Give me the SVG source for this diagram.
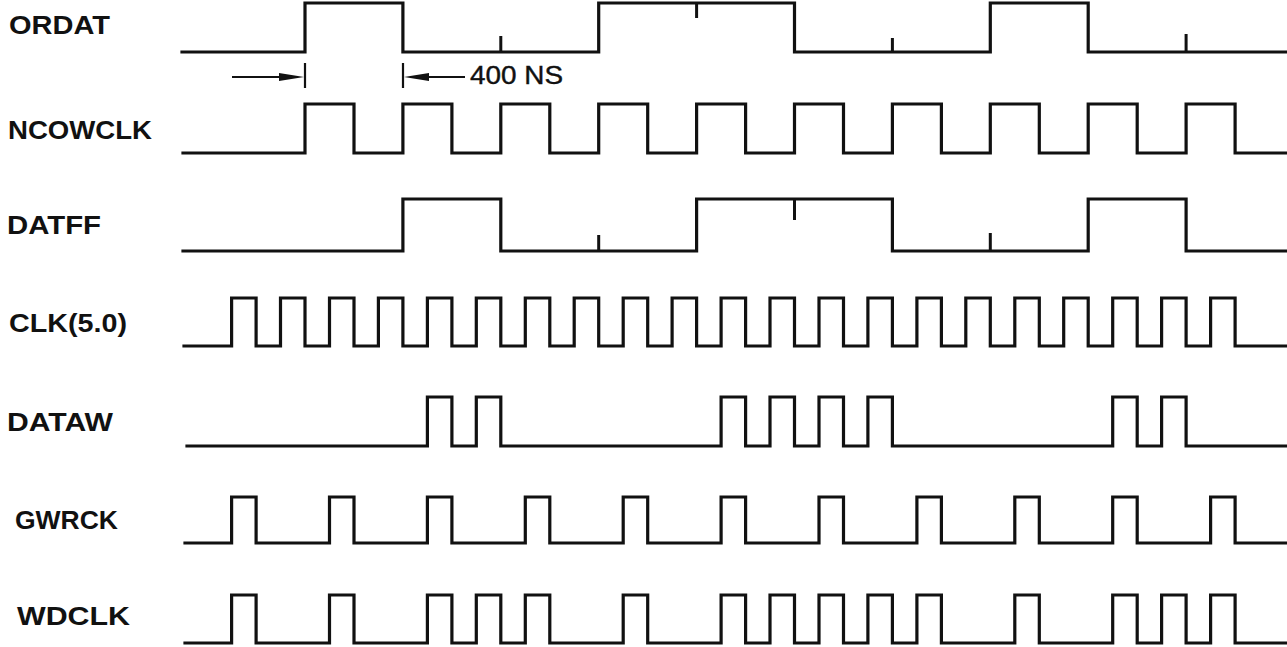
<svg xmlns="http://www.w3.org/2000/svg" width="1287" height="647" viewBox="0 0 1287 647">
<style>
.bg{fill:#ffffff}
.lbl{font-family:"Liberation Sans",Arial,Helvetica,sans-serif;font-weight:bold;font-size:25px;fill:#111}
.dim{font-family:"Liberation Sans",Arial,Helvetica,sans-serif;font-size:25px;fill:#111;stroke:#111;stroke-width:0.4}
.wave{fill:none;stroke:#111;stroke-width:3.2;stroke-linejoin:miter;stroke-linecap:square}
.tick{fill:none;stroke:#111;stroke-width:3}
.aline{fill:none;stroke:#111;stroke-width:2.2}
.ahead{fill:#111}
</style>
<rect class="bg" x="0" y="0" width="1287" height="647"/>

<g id="ORDAT">
<text class="lbl" x="9" y="34" textLength="101" lengthAdjust="spacingAndGlyphs">ORDAT</text>
<path class="wave" d="M182 52H305V3H402.9V52H598.7V3H794.5V52H990.3V3H1088.2V52H1287"/>
<path class="tick" d="M500.8 52V36M696.6 3V18M892.4 52V38M1186.1 52V34"/>
</g>

<g id="NCOWCLK">
<text class="lbl" x="8" y="139" textLength="144" lengthAdjust="spacingAndGlyphs">NCOWCLK</text>
<path class="wave" d="M183 153H305V104H354V153H402.9V104H451.9V153H500.8V104H549.8V153H598.7V104H647.7V153H696.6V104H745.6V153H794.5V104H843.5V153H892.4V104H941.4V153H990.3V104H1039.3V153H1088.2V104H1137.2V153H1186.1V104H1235.1V153H1287"/>
</g>

<g id="DATFF">
<text class="lbl" x="7" y="234" textLength="94" lengthAdjust="spacingAndGlyphs">DATFF</text>
<path class="wave" d="M183 251H402.9V199H500.8V251H696.6V199H892.4V251H1088.2V199H1186.1V251H1287"/>
<path class="tick" d="M598.7 251V235M794.5 199V220M990.3 251V233"/>
</g>

<g id="CLK">
<text class="lbl" x="9" y="332" textLength="118" lengthAdjust="spacingAndGlyphs">CLK(5.0)</text>
<path class="wave" d="M184 346H231.6V298H256.1V346H280.5V298H305V346H329.5V298H354V346H378.4V298H402.9V346H427.4V298H451.9V346H476.3V298H500.8V346H525.3V298H549.8V346H574.2V298H598.7V346H623.2V298H647.7V346H672.1V298H696.6V346H721.1V298H745.6V346H770V298H794.5V346H819V298H843.5V346H867.9V298H892.4V346H916.9V298H941.4V346H965.8V298H990.3V346H1014.8V298H1039.3V346H1063.7V298H1088.2V346H1112.7V298H1137.2V346H1161.6V298H1186.1V346H1210.6V298H1235.1V346H1287"/>
</g>

<g id="DATAW">
<text class="lbl" x="7" y="431" textLength="106" lengthAdjust="spacingAndGlyphs">DATAW</text>
<path class="wave" d="M187 446H427.4V397H451.9V446H476.3V397H500.8V446H721.1V397H745.6V446H770V397H794.5V446H819V397H843.5V446H867.9V397H892.4V446H1112.7V397H1137.2V446H1161.6V397H1186.1V446H1287"/>
</g>

<g id="GWRCK">
<text class="lbl" x="15" y="529" textLength="103" lengthAdjust="spacingAndGlyphs">GWRCK</text>
<path class="wave" d="M185 543H231.6V497H256.1V543H329.5V497H354V543H427.4V497H451.9V543H525.3V497H549.8V543H623.2V497H647.7V543H721.1V497H745.6V543H819V497H843.5V543H916.9V497H941.4V543H1014.8V497H1039.3V543H1112.7V497H1137.2V543H1210.6V497H1235.1V543H1287"/>
</g>

<g id="WDCLK">
<text class="lbl" x="17" y="625" textLength="113" lengthAdjust="spacingAndGlyphs">WDCLK</text>
<path class="wave" d="M185 643H231.6V595H256.1V643H329.5V595H354V643H427.4V595H451.9V643H476.3V595H500.8V643H525.3V595H549.8V643H623.2V595H647.7V643H721.1V595H745.6V643H770V595H794.5V643H819V595H843.5V643H867.9V595H892.4V643H916.9V595H941.4V643H1014.8V595H1039.3V643H1112.7V595H1137.2V643H1161.6V595H1186.1V643H1210.6V595H1235.1V643H1287"/>
</g>

<g id="connectors">
<path class="aline" d="M232 77H282"/>
<polygon class="ahead" points="279,73 304,77 279,81"/>
<path class="aline" d="M305 63V88M403 63V88"/>
<polygon class="ahead" points="404,77 429,73 429,81"/>
<path class="aline" d="M426 77H465"/>
<text class="dim" x="470" y="84" textLength="93" lengthAdjust="spacingAndGlyphs">400 NS</text>
</g>
</svg>
